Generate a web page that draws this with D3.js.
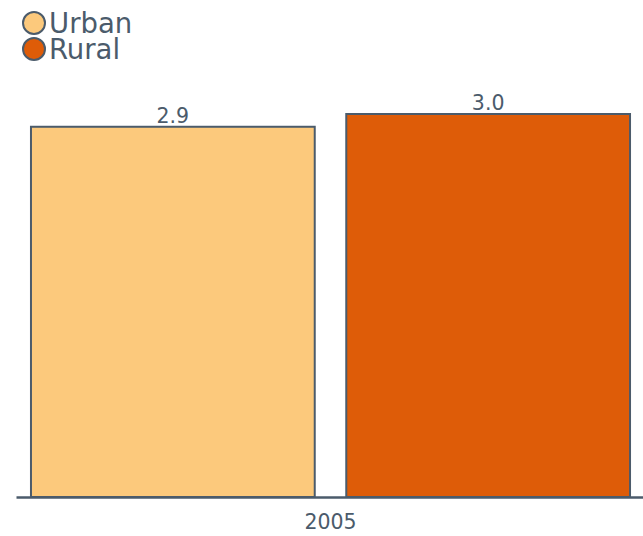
<!DOCTYPE html>
<html>
<head>
<meta charset="utf-8">
<script src="https://cdn.jsdelivr.net/npm/d3@7"></script>
<style>
  body { margin: 0; background: #fff; }
  svg { display: block; font-family: "DejaVu Sans", sans-serif; }
</style>
</head>
<body>
<div id="chart"></div>
<script>
// data
const years = ['2005'];
const seriesNames = ['Urban', 'Rural'];
const urbanValues = [2.9];
const ruralValues = [3.0];
const seriesColors = ['#fcc97c', '#de5c08'];

const WIDTH = 643;
const HEIGHT = 536;
const TEXT = '#4b5b6b';

const svg = d3.select('#chart').append('svg')
  .attr('width', WIDTH)
  .attr('height', HEIGHT);

const rows = years.map((yr, i) => ({
  year: yr,
  values: [urbanValues[i], ruralValues[i]]
}));

// scales
const x0 = d3.scaleBand()
  .domain(years)
  .range([16, 645])
  .paddingOuter(0.025);
const x1 = d3.scaleBand()
  .domain(seriesNames)
  .range([0, x0.bandwidth()])
  .paddingInner(0.1);
const y = d3.scaleLinear()
  .domain([0, 3.0])
  .range([497, 114]);
const color = d3.scaleOrdinal()
  .domain(seriesNames)
  .range(seriesColors);

// bars
const group = svg.selectAll('g.year')
  .data(rows)
  .join('g')
    .attr('class', 'year')
    .attr('transform', d => 'translate(' + x0(d.year) + ',0)');

const cells = group.selectAll('g.cell')
  .data(d => d.values.map((v, i) => ({ key: seriesNames[i], value: v })))
  .join('g')
    .attr('class', 'cell');

cells.append('rect')
  .attr('x', d => x1(d.key))
  .attr('y', d => y(d.value))
  .attr('width', x1.bandwidth())
  .attr('height', d => y(0) - y(d.value))
  .attr('fill', d => color(d.key))
  .attr('stroke', TEXT)
  .attr('stroke-width', 2);

cells.append('text')
  .attr('x', d => x1(d.key) + x1.bandwidth() / 2)
  .attr('y', d => y(d.value) - 4)
  .attr('text-anchor', 'middle')
  .attr('font-size', 20.5)
  .attr('fill', TEXT)
  .text(d => d3.format('.1f')(d.value));

// x axis
const axis = svg.append('g')
  .attr('transform', 'translate(0,' + y(0) + ')')
  .call(d3.axisBottom(x0).tickSize(0).tickPadding(17));
axis.select('.domain')
  .attr('stroke', TEXT)
  .attr('stroke-width', 2.5);
axis.selectAll('text')
  .attr('font-size', 20.5)
  .attr('font-family', '"DejaVu Sans", sans-serif')
  .attr('fill', TEXT);

// legend
const legend = svg.append('g')
  .selectAll('g')
  .data(seriesNames)
  .join('g')
    .attr('transform', (d, i) => 'translate(34,' + (23 + i * 26) + ')');
legend.append('circle')
  .attr('r', 11)
  .attr('fill', d => color(d))
  .attr('stroke', TEXT)
  .attr('stroke-width', 2);
legend.append('text')
  .attr('x', 15)
  .attr('y', 10)
  .attr('font-size', 27.5)
  .attr('fill', TEXT)
  .text(d => d);
</script>
</body>
</html>
